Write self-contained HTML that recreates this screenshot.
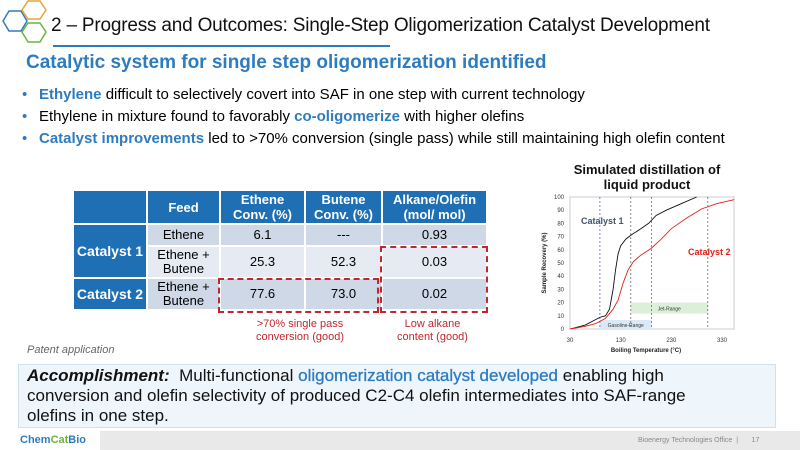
<!DOCTYPE html>
<html><head><meta charset="utf-8"><style>
body{margin:0;width:800px;height:450px;overflow:hidden;background:#fff;font-family:"Liberation Sans",sans-serif;position:relative}
.a{position:absolute}
table{border-collapse:collapse;position:absolute;left:72px;top:189px;font-size:13px;text-align:center;table-layout:fixed}
td{border:2px solid #fff;padding:0;line-height:14px}
th{background:#1f6fb5;color:#fff;border:2px solid #fff;font-size:13px;line-height:15px;padding:0}
.rh{background:#1f6fb5;color:#fff;font-weight:bold;font-size:14px}
.c1{background:#cfd8e6}.c2{background:#e6ebf3}
ul{margin:0;padding:0;list-style:none}
li{position:relative;padding-left:21px;font-size:15px;height:22px;line-height:22px}
li:before{content:"•";position:absolute;left:4px;color:#2e7cc0}
b.bl{color:#2e7cc0}
</style></head><body>
<svg class="a" style="left:0;top:0" width="60" height="52">
<polygon points="3,21 9,11 21,11 27,21 21,31 9,31" fill="none" stroke="#2e7cc0" stroke-width="1.5"/>
<polygon points="22,10 28,1 40,1 46,10 40,19 28,19" fill="none" stroke="#e8a33a" stroke-width="1.5"/>
<polygon points="22,32 28,23 40,23 46,32 40,42 28,42" fill="none" stroke="#6cb33f" stroke-width="1.5"/>
</svg>
<div class="a" style="left:51px;top:15px;font-size:19px;color:#111;letter-spacing:-0.2px">2 – Progress and Outcomes: Single-Step Oligomerization Catalyst Development</div>
<div class="a" style="left:53px;top:45px;width:337px;height:2px;background:#2e7cc0"></div>
<div class="a" style="left:26px;top:52px;font-size:19px;font-weight:bold;color:#2e7cc0">Catalytic system for single step oligomerization identified</div>
<ul class="a" style="left:18px;top:84px">
<li><b class="bl">Ethylene</b> difficult to selectively covert into SAF in one step with current technology</li>
<li>Ethylene in mixture found to favorably <b class="bl">co-oligomerize</b> with higher olefins</li>
<li><b class="bl">Catalyst improvements</b> led to &gt;70% conversion (single pass) while still maintaining high olefin content</li>
</ul>
<table>
<colgroup><col style="width:74px"><col style="width:73px"><col style="width:85px"><col style="width:77px"><col style="width:105px"></colgroup>
<tr style="height:34px"><th></th><th>Feed</th><th>Ethene<br>Conv. (%)</th><th>Butene<br>Conv. (%)</th><th>Alkane/Olefin<br>(mol/ mol)</th></tr>
<tr style="height:22px"><td class="rh" rowspan="2">Catalyst 1</td><td class="c1">Ethene</td><td class="c1">6.1</td><td class="c1">---</td><td class="c1">0.93</td></tr>
<tr style="height:32px"><td class="c2">Ethene +<br>Butene</td><td class="c2">25.3</td><td class="c2">52.3</td><td class="c2">0.03</td></tr>
<tr style="height:32px"><td class="rh">Catalyst 2</td><td class="c1">Ethene +<br>Butene</td><td class="c1">77.6</td><td class="c1">73.0</td><td class="c1">0.02</td></tr>
</table>
<div class="a" style="left:218px;top:278px;width:157px;height:31px;border:2px dashed #c0282d"></div>
<div class="a" style="left:380px;top:246px;width:104px;height:63px;border:2px dashed #c0282d"></div>
<div class="a" style="left:235px;top:318px;width:130px;text-align:center;font-size:11px;color:#c0282d;line-height:13px">&gt;70% single pass<br>conversion (good)</div>
<div class="a" style="left:380px;top:318px;width:105px;text-align:center;font-size:11px;color:#c0282d;line-height:13px">Low alkane<br>content (good)</div>
<div class="a" style="left:27px;top:344px;font-size:11px;font-style:italic;color:#666">Patent application</div>
<svg class="a" id="chart" style="left:520px;top:158px" width="280" height="200"></svg>
<div class="a" style="left:18px;top:364px;width:758px;height:64px;background:#eef5fb;border:1px solid #cfe0ef;box-sizing:border-box;padding:1px 8px;font-size:17px;line-height:20px;color:#111"><div style="width:690px"><b><i>Accomplishment:</i></b>&nbsp; Multi-functional <span style="color:#2e7cc0;-webkit-text-stroke:0.3px #2e7cc0">oligomerization catalyst developed</span> enabling high conversion and olefin selectivity of produced C2-C4 olefin intermediates into SAF-range olefins in one step.</div></div>
<div class="a" style="left:0;top:431px;width:800px;height:19px;background:#e9e9e9"></div>
<div class="a" style="left:0;top:431px;width:100px;height:19px;background:#fff"></div>
<div class="a" style="left:20px;top:434px;font-size:11px;font-weight:bold;color:#2e7cc0">Chem<span style="color:#6cb33f">Cat</span>Bio</div>
<div class="a" style="left:638px;top:437px;font-size:7px;color:#888">Bioenergy Technologies Office &nbsp;| &nbsp; &nbsp; &nbsp; 17</div>
<script>
const xTicks=[30,130,230,330];
const yTicks=[0,10,20,30,40,50,60,70,80,90,100];
const cat1T=[30,60,80,90,100,108,115,120,125,130,140,150,170,185,200,220,250,280];
const cat1V=[0,3,7,9,10,15,30,45,57,63,68,71,76,80,86,90,95,100];
const cat2T=[30,60,80,100,115,125,135,145,155,170,190,210,230,260,290,320,354];
const cat2V=[0,2,4,8,15,22,35,45,51,56,61,68,76,84,91,95,98];
const vLines=[89,150,191,302];
const ns="http://www.w3.org/2000/svg",svg=document.getElementById('chart');
const X=v=>50+(v-30)*152/300, Y=v=>171-v*1.32;
function mk(t,a,p){const e=document.createElementNS(ns,t);for(const k in a)e.setAttribute(k,a[k]);(p||svg).appendChild(e);return e;}
let t=mk('text',{x:127,y:16,'text-anchor':'middle','font-size':13,'font-weight':'bold',fill:'#111'});t.textContent='Simulated distillation of';

t=mk('text',{x:127,y:31,'text-anchor':'middle','font-size':13,'font-weight':'bold',fill:'#111'});t.textContent='liquid product';

let r=mk('rect',{x:50,y:39,width:164,height:132,fill:'none',stroke:'#ccc'});

r=mk('rect',{x:X(89),y:162,width:X(191)-X(89),height:9,fill:'#dbe8f6'});

t=mk('text',{x:(X(89)+X(191))/2,y:169,'text-anchor':'middle','font-size':5,fill:'#333'});t.textContent='Gasoline-Range';

r=mk('rect',{x:X(150),y:Y(20),width:X(302)-X(150),height:11,fill:'#dcefd9'});

t=mk('text',{x:(X(150)+X(302))/2,y:Y(20)+8,'text-anchor':'middle','font-size':5,fill:'#333'});t.textContent='Jet-Range';

vLines.forEach((v,i)=>{const l=mk('line',{x1:X(v),x2:X(v),y1:39,y2:171,stroke:i%2?'#555':'#4455aa','stroke-width':0.7,'stroke-dasharray':'2,2'});
});
yTicks.forEach(v=>{const e=mk('text',{x:44,y:Y(v)+2,'text-anchor':'end','font-size':6,fill:'#333'});e.textContent=v;
});
xTicks.forEach(v=>{const e=mk('text',{x:X(v),y:184,'text-anchor':'middle','font-size':6,fill:'#333'});e.textContent=v;
});
t=mk('text',{x:126,y:194,'text-anchor':'middle','font-size':6,'font-weight':'bold',fill:'#222'});t.textContent='Boiling Temperature (°C)';

t=mk('text',{x:0,y:0,'text-anchor':'middle','font-size':6,'font-weight':'bold',fill:'#222',transform:'translate(26,105) rotate(-90)'});t.textContent='Sample Recovery (%)';

function line(T,V,c,n){const p=mk('polyline',{points:T.map((x,i)=>X(x)+','+Y(V[i])).join(' '),fill:'none',stroke:c,'stroke-width':0.9});
}
line(cat1T,cat1V,'#111','catalyst-1-line');
line(cat2T,cat2V,'#e0201b','catalyst-2-line');
t=mk('text',{x:61,y:66,'font-size':9,'font-weight':'bold',fill:'#44546a'});t.textContent='Catalyst 1';

t=mk('text',{x:168,y:97,'font-size':9,'font-weight':'bold',fill:'#e0201b'});t.textContent='Catalyst 2';

</script>
</body></html>
